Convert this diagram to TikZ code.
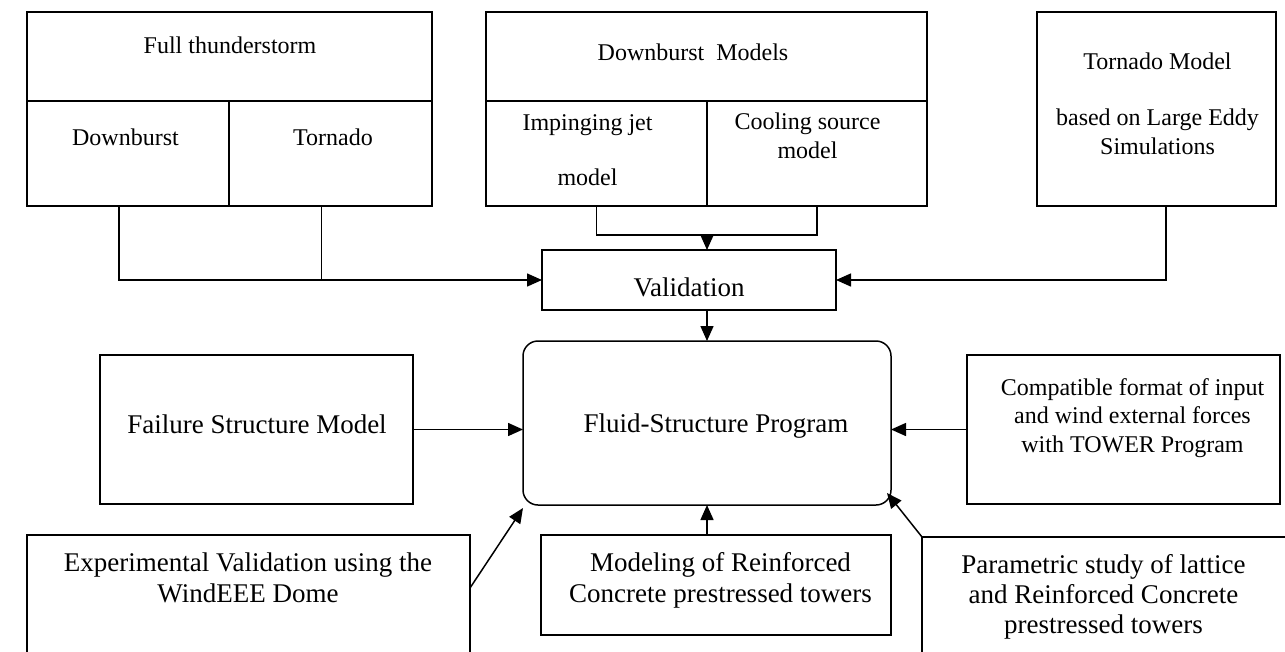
\documentclass[tikz,border=0pt]{standalone}
\usepackage{fontspec}
\setmainfont{Liberation Serif}
\usepackage{tikz}
\usetikzlibrary{arrows.meta}

\tikzset{
  cell/.style={draw,line width=1.5pt,inner sep=0pt,outer sep=0pt,anchor=north west},
  txt/.style={anchor=base,align=center,inner sep=0pt,font=\fontsize{24}{28.5}\selectfont},
  bigtxt/.style={txt,font=\fontsize{27}{31}\selectfont},
  link/.style={line width=1.5pt}
}

\begin{document}
\begin{tikzpicture}[x=1pt,y=-1pt,>={Triangle[length=15pt,width=13pt]}]
\useasboundingbox (0,0) rectangle (1285,651);
\clip (0,0) rectangle (1285,651);
\node[cell,minimum width=405pt,minimum height=89pt] (storm) at (27,12) {};
\node[cell,minimum width=202pt,minimum height=105pt] (burst) at (27,101) {};
\node[cell,minimum width=203pt,minimum height=105pt] (torn) at (229,101) {};
\node[txt] (stormtxt) at (230,53) {Full thunderstorm};
\node[txt] (bursttxt) at (125.5,145) {Downburst};
\node[txt] (torntxt) at (333,145) {Tornado};
\node[cell,minimum width=441pt,minimum height=89pt] (dbmodels) at (486,12) {};
\node[cell,minimum width=221pt,minimum height=105pt] (jet) at (486,101) {};
\node[cell,minimum width=220pt,minimum height=105pt] (cool) at (707,101) {};
\node[txt] (dbmodelstxt) at (693,60) {Downburst\hspace{12pt}Models};
\node[txt] (jettxt) at (587.5,185) {Impinging jet\\[26.5pt]model};
\node[txt] (cooltxt) at (807.5,158) {Cooling source\\model};
\node[cell,minimum width=239pt,minimum height=194pt] (les) at (1037,12) {};
\node[txt] (lestxt) at (1157.5,154) {Tornado Model\\[27.5pt]based on Large Eddy\\Simulations};
\node[cell,minimum width=294pt,minimum height=60pt] (valid) at (542,250) {};
\node[bigtxt] (validtxt) at (689,296) {Validation};
\node[cell,rounded corners=15pt,minimum width=368pt,minimum height=164pt] (fluid) at (523,341) {};
\node[bigtxt] (fluidtxt) at (716,432) {Fluid-Structure Program};
\node[cell,minimum width=313pt,minimum height=149pt] (fail) at (100,355) {};
\node[bigtxt] (failtxt) at (257,433) {Failure Structure Model};
\node[cell,minimum width=313pt,minimum height=149pt] (compat) at (967,355) {};
\node[txt] (compattxt) at (1132.5,452) {Compatible format of input\\and wind external forces\\with TOWER Program};
\node[cell,minimum width=443pt,minimum height=160pt] (exper) at (27,535) {};
\node[bigtxt] (expertxt) at (248,602) {Experimental Validation using the\\WindEEE Dome};
\node[cell,minimum width=350pt,minimum height=100pt] (rcmodel) at (541,535) {};
\node[bigtxt] (rcmodeltxt) at (720.5,602) {Modeling of Reinforced\\Concrete prestressed towers};
\node[cell,minimum width=400pt,minimum height=160pt] (param) at (922,537) {};
\node[bigtxt,font=\fontsize{27}{30}\selectfont] (paramtxt) at (1103.5,633) {Parametric study of lattice\\and Reinforced Concrete\\prestressed towers};
\coordinate (join) at (jet.south east |- 0,235);
\draw[link,->] ([xshift=-9pt]burst.south) |- (valid.west);
\draw[link] ([xshift=-9pt]torn.south) -- ([xshift=-9pt]torn.south |- valid.west);
\draw[link] (jet.south) |- (join) -| (cool.south);
\draw[link,->] (join) -- (join |- valid.north);
\draw[link,->] ([xshift=9.5pt]les.south) |- (valid.east);
\draw[link,->] (valid.south -| fluid.north) -- (fluid.north);
\draw[link,->] (fail.east) -- (fail.east -| fluid.west);
\draw[link,->] (compat.west) -- (compat.west -| fluid.east);
\draw[link,->] (rcmodel.north -| fluid.south) -- (fluid.south);
\draw[link,->] ([yshift=-53pt]exper.north east) -- ([yshift=-3pt]fluid.south west);
\draw[link,->] (param.north west) -- ([shift={(-4,-12)}]fluid.south east);
\end{tikzpicture}
\end{document}
